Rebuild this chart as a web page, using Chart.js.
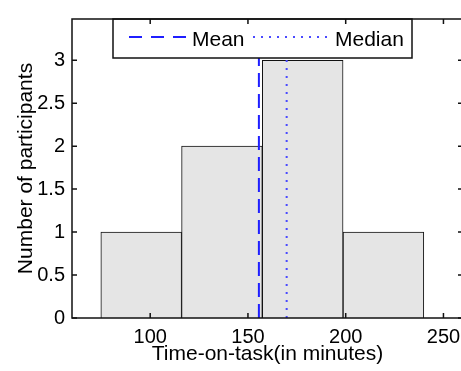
<!DOCTYPE html>
<html>
<head>
<meta charset="utf-8">
<script src="https://cdn.jsdelivr.net/npm/chart.js@4/dist/chart.umd.min.js"></script>
<style>
  html, body { margin: 0; padding: 0; background: #fff; overflow: hidden; }
  canvas { display: block; }
</style>
</head>
<body>
<canvas id="histChart" width="470" height="371"></canvas>
<script>
// histogram bins (centres) and participant counts
const binCenters = [95.4, 136.7, 178.0, 219.3]
const counts = [1, 2, 3, 1]

// summary statistics
const meanTime = 155.6
const medianTime = 169.8

// axes
const xTickValues = [100, 150, 200, 250]
const yTickValues = [0, 0.5, 1, 1.5, 2, 2.5, 3]
const xMin = 60
const xMax = 260
const yMax = 3.48

Chart.defaults.font.family = "'Liberation Sans', Arial, sans-serif"
Chart.defaults.color = '#000'

// frame, inward ticks (matlab style) and the legend box
const framePlugin = {
  id: 'frame',
  afterDraw(chart) {
    const ctx = chart.ctx
    const { left, right, top, bottom } = chart.chartArea
    const xs = chart.scales.x
    const ys = chart.scales.y
    const tick = 5

    ctx.save()

    // legend
    const lx = 113, ly = top, lw = 299, lh = 39
    ctx.fillStyle = '#fff'
    ctx.fillRect(lx, ly, lw, lh)
    ctx.strokeStyle = '#111'
    ctx.lineWidth = 1.5
    ctx.strokeRect(lx, ly, lw, lh)

    ctx.lineWidth = 2
    ctx.strokeStyle = '#1f1fff'
    ctx.setLineDash([13, 9])
    ctx.beginPath()
    ctx.moveTo(129, ly + 18)
    ctx.lineTo(190, ly + 18)
    ctx.stroke()

    ctx.strokeStyle = '#4a4aff'
    ctx.setLineDash([2, 6])
    ctx.beginPath()
    ctx.moveTo(253, ly + 18)
    ctx.lineTo(332, ly + 18)
    ctx.stroke()
    ctx.setLineDash([])

    ctx.fillStyle = '#000'
    ctx.font = "21px 'Liberation Sans', Arial, sans-serif"
    ctx.textBaseline = 'middle'
    ctx.textAlign = 'left'
    ctx.fillText('Mean', 192, ly + 21)
    ctx.fillText('Median', 335, ly + 21)

    // axes box
    ctx.strokeStyle = '#111'
    ctx.lineWidth = 1.5
    ctx.strokeRect(left, top, right - left, bottom - top)

    ctx.beginPath()
    xTickValues.forEach((v) => {
      const px = xs.getPixelForValue(v)
      ctx.moveTo(px, bottom)
      ctx.lineTo(px, bottom - tick)
      ctx.moveTo(px, top)
      ctx.lineTo(px, top + tick)
    })
    yTickValues.forEach((v) => {
      const py = ys.getPixelForValue(v)
      ctx.moveTo(left, py)
      ctx.lineTo(left + tick, py)
      ctx.moveTo(right, py)
      ctx.lineTo(right - tick, py)
    })
    ctx.stroke()
    ctx.restore()
  }
}

const ctx = document.getElementById('histChart')
new Chart(ctx, {
  type: 'bar',
  data: {
    datasets: [
      {
        type: 'bar',
        label: 'Participants',
        data: binCenters.map((c, i) => ({ x: c, y: counts[i] })),
        backgroundColor: '#e5e5e5',
        borderColor: '#111',
        borderWidth: 1,
        barPercentage: 1,
        categoryPercentage: 1,
        order: 2
      },
      {
        type: 'line',
        label: 'Mean',
        data: [{ x: meanTime, y: 0 }, { x: meanTime, y: yMax }],
        borderColor: '#1f1fff',
        borderWidth: 2,
        borderDash: [14, 7],
        pointRadius: 0,
        order: 1
      },
      {
        type: 'line',
        label: 'Median',
        data: [{ x: medianTime, y: 0 }, { x: medianTime, y: yMax }],
        borderColor: '#4a4aff',
        borderWidth: 2,
        borderDash: [2, 6],
        pointRadius: 0,
        order: 1
      }
    ]
  },
  options: {
    responsive: false,
    devicePixelRatio: 1,
    animation: false,
    layout: { padding: { top: 9, right: 7, left: 0, bottom: 0 } },
    plugins: {
      legend: { display: false },
      tooltip: { enabled: false }
    },
    scales: {
      x: {
        type: 'linear',
        min: xMin,
        max: xMax,
        offset: false,
        grid: { display: false, drawTicks: false },
        border: { display: false },
        afterBuildTicks: (scale) => { scale.ticks = xTickValues.map((v) => ({ value: v })) },
        afterFit: (scale) => { scale.height = 53 },
        ticks: {
          padding: 7,
          maxRotation: 0,
          font: { size: 20 },
          callback: (v) => String(v)
        },
        title: {
          display: true,
          text: 'Time-on-task(in minutes)',
          font: { size: 21 },
          padding: { top: 0, bottom: 4 }
        }
      },
      y: {
        min: 0,
        max: yMax,
        grid: { display: false, drawTicks: false },
        border: { display: false },
        afterBuildTicks: (scale) => { scale.ticks = yTickValues.map((v) => ({ value: v })) },
        afterFit: (scale) => { scale.width = 72 },
        ticks: {
          padding: 7,
          font: { size: 20 },
          callback: (v) => String(v)
        },
        title: {
          display: true,
          text: 'Number of participants',
          font: { size: 21 },
          padding: { top: 14, bottom: 0 }
        }
      }
    }
  },
  plugins: [framePlugin]
})
</script>
</body>
</html>
